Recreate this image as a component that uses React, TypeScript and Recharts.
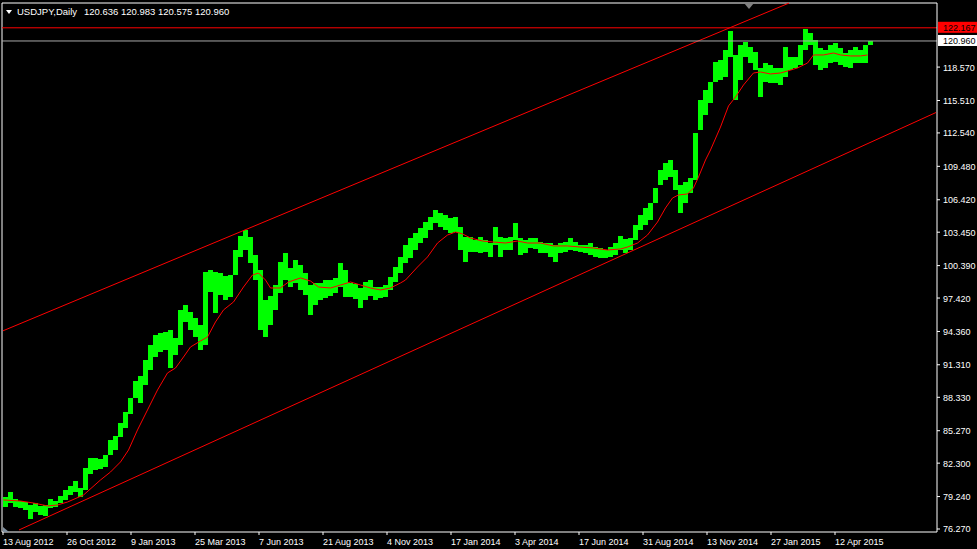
import React from 'react';
import { ComposedChart, Bar, Line, XAxis, YAxis, ReferenceLine, ReferenceDot } from 'recharts';

const symbolLabel = 'USDJPY,Daily';
const lastOHLC = ['120.636', '120.983', '120.575', '120.960'];

// one sample every 5 daily bars: high / low of the window
const barStep = 5;
const highs = [
  79.2, 79.66, 79.02, 78.83, 78.74, 78.47, 78.65, 78.38, 78.47, 79.02,
  78.83, 79.29, 79.84, 80.21, 80.67, 80.03, 81.86, 82.77, 82.77, 82.68,
  83.05, 84.42, 84.79, 85.98, 86.98, 88.27, 89.82, 90.28, 91.75, 93.12,
  94.04, 94.22, 94.31, 94.49, 93.76, 96.33, 96.78, 96.14, 95.59, 94.95,
  99.81, 99.99, 99.81, 99.71, 99.44, 99.53, 101.82, 103.1, 103.65, 103.01,
  101.36, 99.99, 97.24, 97.61, 98.61, 100.72, 101.55, 100.17, 100.9, 100.45,
  99.71, 98.61, 98.8, 98.8, 99.07, 99.07, 99.26, 100.63, 99.99, 98.8,
  98.71, 98.34, 98.89, 99.07, 98.43, 98.43, 98.61, 99.35, 100.26, 101.18,
  102.28, 102.92, 103.38, 103.83, 104.38, 104.84, 105.48, 105.21, 105.03, 104.75,
  104.84, 103.93, 103.01, 103.01, 102.74, 103.01, 102.74, 102.46, 103.93, 103.01,
  102.92, 103.01, 104.29, 102.92, 102.74, 102.92, 102.92, 102.55, 102.46, 102.46,
  102.28, 102.46, 102.55, 102.92, 102.55, 102.28, 102.28, 102.46, 102.09, 102.0,
  101.82, 102.09, 102.46, 103.1, 102.83, 102.92, 104.11, 105.03, 105.67, 106.12,
  107.5, 109.15, 109.79, 110.06, 109.15, 107.77, 108.05, 108.41, 112.53, 115.56,
  116.47, 117.2, 119.04, 119.22, 120.13, 121.87, 119.68, 120.59, 120.87, 120.41,
  119.95, 118.49, 118.94, 118.76, 118.49, 118.49, 120.41, 119.49, 119.49, 120.59,
  122.06, 121.69, 121.05, 120.32, 120.13, 120.59, 120.78, 120.32, 119.86, 120.13,
  120.41, 120.13, 120.59, 120.98,
];
const lows = [
  78.28, 78.65, 78.28, 78.19, 78.01, 77.19, 77.83, 77.55, 77.46, 78.19,
  78.28, 78.65, 78.93, 79.38, 79.66, 79.2, 79.84, 81.31, 81.67, 81.77,
  81.95, 83.05, 83.5, 84.7, 85.52, 86.8, 88.27, 87.81, 89.46, 90.83,
  92.02, 92.48, 92.66, 91.01, 92.2, 93.12, 95.23, 94.49, 93.85, 92.66,
  93.12, 97.97, 96.05, 97.7, 97.24, 97.52, 99.53, 101.18, 101.82, 100.63,
  99.07, 94.49, 93.85, 94.95, 96.33, 97.88, 99.07, 98.43, 98.8, 98.16,
  97.7, 95.87, 96.78, 97.24, 97.42, 97.61, 97.88, 98.43, 97.52, 97.52,
  97.33, 96.51, 97.24, 97.61, 97.24, 97.42, 97.52, 98.16, 98.89, 99.71,
  100.63, 101.09, 101.82, 102.46, 102.92, 103.65, 104.29, 103.93, 103.65, 103.38,
  103.47, 101.82, 100.72, 101.64, 101.64, 101.55, 101.64, 101.18, 102.28, 101.18,
  101.82, 101.82, 102.74, 101.36, 101.55, 102.0, 101.91, 101.55, 101.55, 101.18,
  100.72, 101.55, 101.64, 101.82, 101.73, 101.64, 101.55, 101.36, 101.18, 101.09,
  101.09, 101.18, 101.36, 101.82, 101.55, 101.82, 102.74, 103.65, 104.11, 104.57,
  106.12, 107.77, 108.23, 108.5, 107.31, 105.21, 106.12, 107.04, 108.23, 112.81,
  114.18, 115.28, 117.2, 117.39, 117.66, 119.49, 115.56, 117.39, 119.49, 118.94,
  118.3, 115.83, 117.2, 117.11, 117.11, 116.93, 117.66, 118.3, 118.49, 118.76,
  120.13, 120.59, 118.76, 118.3, 118.49, 118.94, 119.04, 118.76, 118.58, 118.49,
  118.94, 118.94, 118.94, 120.58,
];

// moving average: bar index and value
const maIdx = [
  0, 17, 30, 44, 54, 64, 80, 97, 107, 117, 125, 134, 144, 154, 164, 172, 180, 187, 197, 204,
  212, 220, 230, 240, 249, 255, 262, 267, 277, 285, 297, 307, 315, 327, 337, 347, 357, 367, 377, 387,
  397, 402, 414, 424, 434, 444, 452, 459, 467, 479, 490, 502, 514, 524, 537, 550, 564, 577, 590, 604,
  617, 624, 634, 644, 654, 662, 669, 675, 684, 690, 695, 702, 707, 717, 725, 732, 740, 750, 757, 767,
  777, 784, 794, 804, 810, 820, 830, 837, 847, 857, 864,
];
const maVals = [
  78.93, 78.83, 78.65, 78.38, 78.47, 78.74, 79.38, 80.76, 81.49, 82.41, 83.5, 85.34, 87.17, 89.0, 90.56, 91.01, 92.02, 92.94, 93.49, 93.85,
  95.23, 96.33, 97.06, 98.43, 99.53, 99.71, 99.07, 98.34, 98.34, 98.89, 99.26, 98.98, 98.43, 98.34, 98.61, 98.89, 98.61, 98.34, 98.16, 98.34,
  98.8, 99.07, 100.26, 101.18, 102.46, 103.19, 103.47, 103.29, 102.92, 102.64, 102.55, 102.46, 102.64, 102.46, 102.46, 102.19, 102.19, 102.09, 102.0, 101.82,
  101.91, 102.09, 102.46, 103.19, 104.38, 105.67, 106.58, 106.86, 106.95, 107.5, 108.5, 110.06, 110.98, 113.08, 115.01, 115.83, 116.93, 118.03, 118.12, 117.94,
  118.03, 118.21, 118.49, 118.94, 119.68, 119.68, 119.86, 119.68, 119.59, 119.59, 119.68,
];

const dateLabels = [
  '13 Aug 2012', '26 Oct 2012', '9 Jan 2013', '25 Mar 2013', '7 Jun 2013', '21 Aug 2013', '4 Nov 2013',
  '17 Jan 2014', '3 Apr 2014', '17 Jun 2014', '31 Aug 2014', '13 Nov 2014', '27 Jan 2015', '12 Apr 2015',
];
const barsPerDateLabel = 64;

const priceTicks = [
  76.27, 79.24, 82.3, 85.27, 88.33, 91.31, 94.36, 97.42, 100.39, 103.45, 106.42, 109.48, 112.54, 115.51, 118.57,
];

const upperChannel = [{ i: 0, p: 94.42 }, { i: 786, p: 124.43 }];
const lowerChannel = [{ i: 16, p: 76.18 }, { i: 933, p: 114.41 }];
const levelPrice = 122.167;
const bidPrice = 120.96;

const yMin = 75.995;
const yMax = 124.438;
const shiftMarkerIdx = 746;

const FONT = "'Liberation Sans', Arial, sans-serif";

const barData = highs.map((h, k) => ({ x: k * barStep + barStep / 2, range: [lows[k], h] }));
const maData = maIdx.map((i, k) => ({ x: i + 0.5, ma: maVals[k] }));
const dateTickIdx = dateLabels.map((_, k) => k * barsPerDateLabel);

const XTick = (props: any) => {
  const { x, y, payload } = props;
  const k = Math.round(payload.value / barsPerDateLabel);
  return (
    <text x={x} y={y + 8} fill="#ffffff" fontSize={9} fontFamily={FONT} textAnchor="start">
      {dateLabels[k]}
    </text>
  );
};

const YTick = (props: any) => {
  const { x, y, payload } = props;
  return (
    <text x={x} y={y + 3.5} fill="#ffffff" fontSize={9} fontFamily={FONT} textAnchor="start">
      {Number(payload.value).toFixed(3)}
    </text>
  );
};

const RangeShape = (props: any) => {
  const { x, y, width, height } = props;
  if (x == null || y == null) return null;
  const top = height < 0 ? y + height : y;
  const h = Math.max(Math.abs(height), 1);
  const cx = x + width / 2;
  return (
    <rect
      x={cx - barStep / 2}
      y={top}
      width={barStep}
      height={h}
      fill="#00ff00"
      shapeRendering="crispEdges"
    />
  );
};

const makeTag = (bg: string, fg: string, text: string) => (props: any) => {
  const vb = props.viewBox || {};
  const x = (vb.x || 0) + (vb.width || 0) + 1;
  const y = vb.y || 0;
  return (
    <g>
      <rect x={x} y={y - 6} width={40} height={11} fill={bg} />
      <text x={x + 5} y={y + 3} fill={fg} fontSize={9} fontFamily={FONT}>
        {text}
      </text>
    </g>
  );
};

const TopMarker = (props: any) => {
  const { cx, cy } = props;
  return <polygon points={`${cx - 5},${cy} ${cx + 5},${cy} ${cx},${cy + 6}`} fill="#808080" />;
};

const CornerMarker = (props: any) => {
  const { cx, cy } = props;
  return <polygon points={`${cx},${cy - 5} ${cx},${cy} ${cx + 6},${cy}`} fill="#8090a0" />;
};

export default function App() {
  return (
    <div style={{ position: 'absolute', left: 0, top: 0, width: 977, height: 549, background: '#000000' }}>
      <ComposedChart
        width={977}
        height={549}
        data={barData}
        margin={{ top: 3, right: 0, bottom: 0, left: 2 }}
        barCategoryGap={0}
        barGap={0}
      >
        <XAxis
          dataKey="x"
          type="number"
          domain={[-1, 934]}
          allowDataOverflow
          ticks={dateTickIdx}
          tick={<XTick />}
          tickSize={3}
          tickMargin={2}
          height={17}
          axisLine={{ stroke: '#ffffff' }}
          tickLine={{ stroke: '#ffffff' }}
          interval={0}
        />
        <YAxis
          orientation="right"
          type="number"
          domain={[yMin, yMax]}
          allowDataOverflow
          ticks={priceTicks}
          tick={<YTick />}
          tickSize={3}
          tickMargin={3}
          width={40}
          axisLine={{ stroke: '#ffffff' }}
          tickLine={{ stroke: '#ffffff' }}
          interval={0}
        />
        <ReferenceLine x={-1} stroke="#ffffff" />
        <ReferenceLine y={yMax} stroke="#ffffff" />
        <ReferenceLine
          segment={[{ x: upperChannel[0].i, y: upperChannel[0].p }, { x: upperChannel[1].i, y: upperChannel[1].p }]}
          stroke="#ff0000"
          ifOverflow="visible"
        />
        <ReferenceLine
          segment={[{ x: lowerChannel[0].i, y: lowerChannel[0].p }, { x: lowerChannel[1].i, y: lowerChannel[1].p }]}
          stroke="#ff0000"
          ifOverflow="visible"
        />
        <Bar dataKey="range" fill="#00ff00" barSize={barStep} shape={<RangeShape />} isAnimationActive={false} />
        <Line
          data={maData}
          dataKey="ma"
          stroke="#ff0000"
          strokeWidth={1}
          dot={false}
          activeDot={false}
          isAnimationActive={false}
        />
        <ReferenceLine y={levelPrice} stroke="#ff0000" label={makeTag('#ff0000', '#000000', levelPrice.toFixed(3))} />
        <ReferenceLine y={bidPrice} stroke="#a8a8a8" label={makeTag('#ffffff', '#000000', bidPrice.toFixed(3))} />
        <ReferenceDot x={shiftMarkerIdx} y={yMax} ifOverflow="visible" shape={<TopMarker />} />
        <ReferenceDot x={0} y={yMin} ifOverflow="visible" shape={<CornerMarker />} />
      </ComposedChart>
      <div
        style={{
          position: 'absolute',
          left: 6,
          top: 6,
          fontFamily: FONT,
          fontSize: 9.5,
          color: '#ffffff',
          whiteSpace: 'pre',
          lineHeight: '11px',
          display: 'flex',
          alignItems: 'center',
        }}
      >
        <span
          style={{
            display: 'inline-block',
            width: 0,
            height: 0,
            borderLeft: '3.5px solid transparent',
            borderRight: '3.5px solid transparent',
            borderTop: '4px solid #ffffff',
            marginRight: 5,
          }}
        />
        <span>{symbolLabel}</span>
        <span style={{ marginLeft: 7 }}>{lastOHLC.join(' ')}</span>
      </div>
    </div>
  );
}
